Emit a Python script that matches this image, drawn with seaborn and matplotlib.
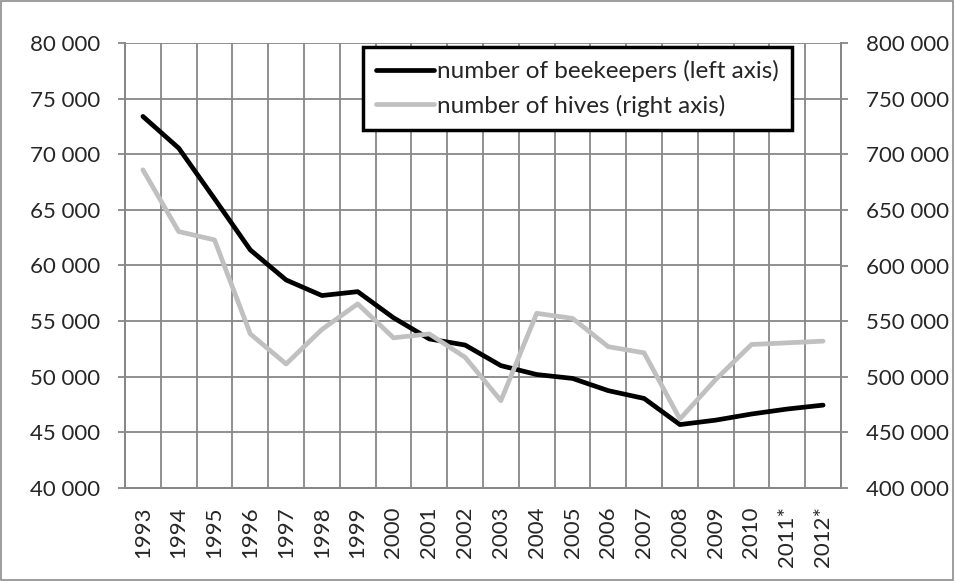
import matplotlib
matplotlib.use("Agg")
import matplotlib.pyplot as plt
from matplotlib.patches import Rectangle
from matplotlib.ticker import FuncFormatter, FixedLocator
import seaborn as sns
import pandas as pd
import numpy as np

years = ["1993", "1994", "1995", "1996", "1997", "1998", "1999", "2000", "2001", "2002",
         "2003", "2004", "2005", "2006", "2007", "2008", "2009", "2010", "2011*", "2012*"]
beekeepers = [73400, 70550, 66000, 61400, 58700, 57300, 57650, 55300, 53400, 52850,
              51000, 50200, 49850, 48750, 48050, 45700, 46100, 46650, 47100, 47450]
hives = [686000, 630500, 623000, 538500, 511500, 542500, 565500, 535000, 538500, 517500,
         478500, 557000, 552500, 527000, 521500, 462000, 497500, 529000, 530500, 532000]

df = pd.DataFrame({"x": np.arange(len(years)), "beekeepers": beekeepers, "hives": hives})

sns.set_style("white")
plt.rcParams["font.family"] = ["Lato", "DejaVu Sans"]

fig = plt.figure(figsize=(9.55, 5.81), dpi=100)
ax = fig.add_axes([125 / 955, 1 - 488 / 581, (841 - 125) / 955, (488 - 43) / 581])
ax2 = ax.twinx()

grid_c = "#878787"
sns.lineplot(data=df, x="x", y="beekeepers", ax=ax, color="black", linewidth=3.4,
             label="number of beekeepers (left axis)", legend=False)
sns.lineplot(data=df, x="x", y="hives", ax=ax2, color="#c0c0c0", linewidth=3.4,
             label="number of hives (right axis)", legend=False)

ax.set_xlim(-0.5, len(years) - 0.5)
ax.set_ylim(40000, 80000)
ax2.set_ylim(400000, 800000)
ax.set_yticks(np.arange(40000, 80001, 5000))
ax2.set_yticks(np.arange(400000, 800001, 50000))

fmt = FuncFormatter(lambda v, p: f"{int(v):,}".replace(",", " "))
ax.yaxis.set_major_formatter(fmt)
ax2.yaxis.set_major_formatter(fmt)

ax.set_xticks(np.arange(len(years)))
ax.set_xticklabels(years, rotation=90, fontsize=16)
ax.xaxis.set_minor_locator(FixedLocator(np.arange(-0.5, len(years), 1)))
ax.tick_params(axis="x", which="major", length=0, pad=13)
ax.tick_params(axis="x", which="minor", length=6, color=grid_c, width=1.3, direction="out")
ax.tick_params(axis="y", labelsize=16, length=5, color=grid_c, width=1.3, direction="out",
               left=True, pad=13)
ax2.tick_params(axis="y", labelsize=16, length=5, color=grid_c, width=1.3, direction="out",
                right=True, pad=13)

ax2.grid(False)
ax.grid(True, which="major", axis="y", color=grid_c, linewidth=1.3)
ax.grid(True, which="minor", axis="x", color=grid_c, linewidth=1.3)
ax.set_axisbelow(True)

ax.set_xlabel("")
ax.set_ylabel("")
ax2.set_xlabel("")
ax2.set_ylabel("")
for a in (ax, ax2):
    for s in a.spines.values():
        s.set_color(grid_c)
        s.set_linewidth(1.3)
ax.spines["top"].set_visible(False)
ax2.spines["top"].set_visible(False)

h1, l1 = ax.get_legend_handles_labels()
h2, l2 = ax2.get_legend_handles_labels()
leg = ax2.legend(h1 + h2, l1 + l2, loc="upper right",
                 bbox_to_anchor=(792 / 955, 1 - 47 / 581), bbox_transform=fig.transFigure,
                 fontsize=17.5, frameon=True, fancybox=False, framealpha=1,
                 handlelength=2.4, handletextpad=0.1, borderpad=0.55, labelspacing=0.5,
                 borderaxespad=0)
leg.get_frame().set_edgecolor("black")
leg.get_frame().set_linewidth(2.5)
leg.set_zorder(20)

fig.patches.append(Rectangle((0.001, 0.002), 0.997, 0.996, transform=fig.transFigure,
                             fill=False, edgecolor="#8c8c8c", linewidth=1.2))

fig.savefig("out.png", dpi=100)
